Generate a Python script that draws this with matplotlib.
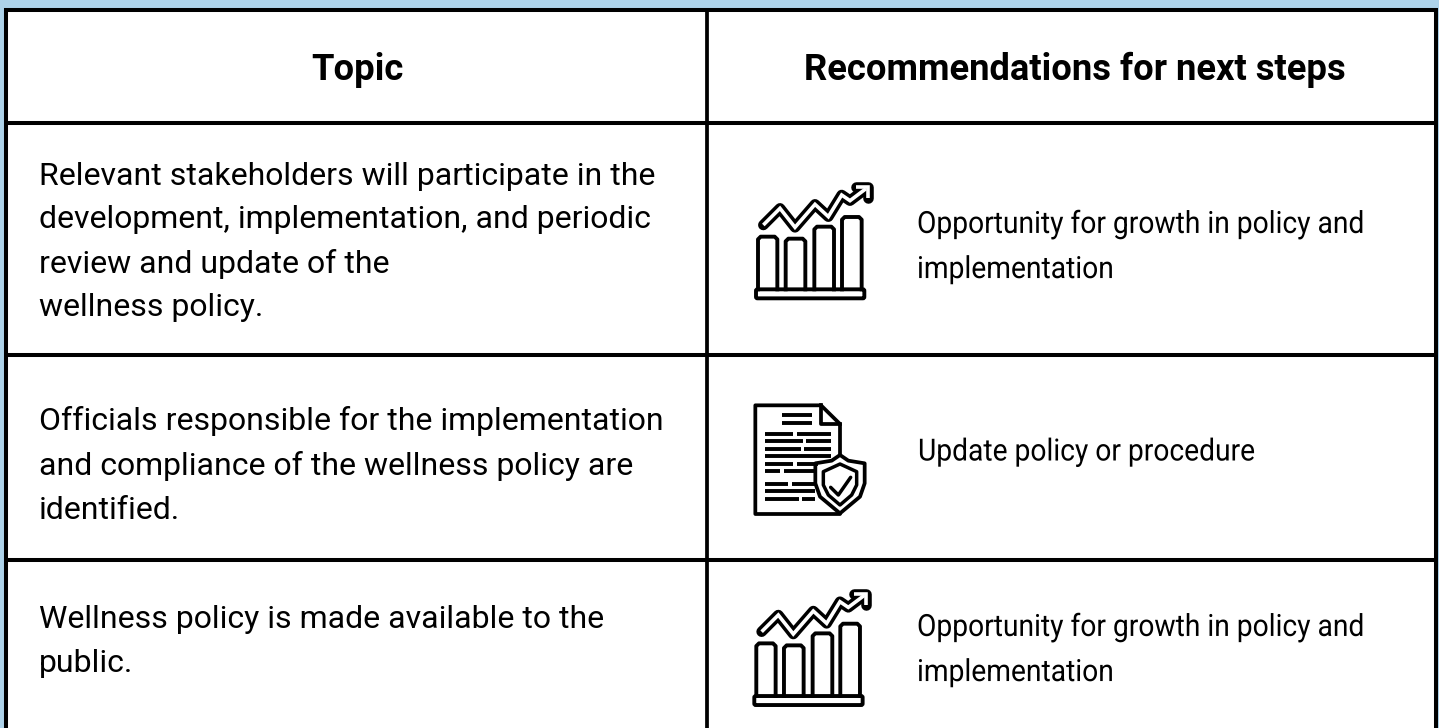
import matplotlib
matplotlib.use("Agg")
import matplotlib.pyplot as plt
from matplotlib.patches import Rectangle, FancyBboxPatch, Polygon
from matplotlib.patheffects import AbstractPathEffect
from matplotlib.transforms import Affine2D

BLUE = "#aed3ea"
header = ["Topic", "Recommendations for next steps"]
topics = [
    "Relevant stakeholders will participate in the\ndevelopment, implementation, and periodic\nreview and update of the\nwellness policy.",
    "Officials responsible for the implementation\nand compliance of the wellness policy are\nidentified.",
    "Wellness policy is made available to the\npublic.",
]
recs = [
    "Opportunity for growth in policy and\nimplementation",
    "Update policy or procedure",
    "Opportunity for growth in policy and\nimplementation",
]


class Condense(AbstractPathEffect):
    # squeeze text sideways around x0 (no condensed Roboto installed)
    def __init__(self, x0, sx):
        super().__init__()
        self.x0 = x0
        self.sx = sx

    def draw_path(self, renderer, gc, tpath, affine, rgbFace=None):
        squeeze = Affine2D().translate(-self.x0, 0).scale(self.sx, 1).translate(self.x0, 0)
        renderer.draw_path(gc, tpath, affine + squeeze, rgbFace)


fig = plt.figure(figsize=(14.39, 7.28), dpi=100, facecolor=BLUE)
ax = fig.add_axes([0, 0, 1, 1])
ax.set_xlim(0, 1439)
ax.set_ylim(728, 0)
ax.axis("off")

# table frame
ax.add_patch(Rectangle((6, 9.5), 1430, 730, fc="white", ec="black", lw=2.9))
ax.plot([706.7, 706.7], [9, 728], color="black", lw=2.7, solid_capstyle="butt")
for y in [123, 355, 560]:
    ax.plot([6, 1436], [y, y], color="black", lw=2.9, solid_capstyle="butt")


def growth_icon(ox, oy):
    # coordinates measured on a 3x crop, so divide by 3
    def P(x, y):
        return ox + x / 3, oy + y / 3

    for x0, x1, top in [(54, 112, 200), (137, 196, 206), (223, 282, 170), (306, 365, 141)]:
        pts = [P(x0, 358), P(x0, top + 8), P(x0 + 8, top), P(x1 - 8, top), P(x1, top + 8), P(x1, 358)]
        ax.plot(*zip(*pts), color="black", lw=2.8, solid_joinstyle="round")
    ax.add_patch(FancyBboxPatch(P(48, 358), 325 / 3, 27 / 3, boxstyle="round,pad=0,rounding_size=1.5",
                                fc="white", ec="black", lw=2.8))
    band = [P(70, 165), P(120, 115), P(165, 172), P(225, 103), P(265, 140), P(305, 75), P(330, 92), P(378, 56)]
    head = [P(348, 52), P(384, 52), P(384, 84)]
    for line in (band, head):
        ax.plot(*zip(*line), color="black", lw=7.6, solid_joinstyle="round", solid_capstyle="round")
    for line in (band, head):
        ax.plot(*zip(*line), color="white", lw=2.6, solid_joinstyle="miter", solid_capstyle="butt")


def doc_icon(ox, oy):
    def P(x, y):
        return ox + x / 3, oy + y / 3

    outline = [P(46, 46), P(243, 46), P(300, 102), P(300, 372), P(46, 372)]
    ax.add_patch(Polygon(outline, closed=True, fc="white", ec="black", lw=2.7, joinstyle="round"))
    fold = [P(243, 46), P(243, 102), P(300, 102)]
    ax.plot(*zip(*fold), color="black", lw=2.7, solid_joinstyle="round")
    rows = [(75, [(125, 215)]), (98, [(125, 215)]),
            (132, [(75, 160), (172, 272)]), (152, [(75, 188), (198, 272)]),
            (176, [(75, 183), (193, 272)]), (198, [(75, 272)]),
            (221, [(75, 160), (170, 235)]), (243, [(75, 120), (132, 225)]),
            (282, [(75, 145), (155, 225)]), (304, [(75, 225)]),
            (327, [(75, 177), (187, 225)])]
    for y, segs in rows:
        for x0, x1 in segs:
            ax.plot(*zip(P(x0, y), P(x1, y)), color="black", lw=2.8, solid_capstyle="butt")
    shield = [P(300, 195), P(325, 212), P(374, 220), P(374, 280), P(360, 320), P(300, 370),
              P(240, 320), P(226, 280), P(226, 220), P(275, 212)]
    ax.add_patch(Polygon(shield, closed=True, fc="white", ec="black", lw=2.7, joinstyle="round"))
    inner = [P(300, 222), P(350, 245), P(350, 285), P(335, 315), P(300, 345),
             P(265, 315), P(250, 285), P(250, 245)]
    ax.add_patch(Polygon(inner, closed=True, fc="white", ec="black", lw=2.5, joinstyle="round"))
    check = [P(272, 292), P(295, 315), P(332, 262)]
    ax.plot(*zip(*check), color="black", lw=2.5, solid_capstyle="round", solid_joinstyle="round")


growth_icon(740, 170)
doc_icon(740, 390)
growth_icon(738.3, 576.7)

ax.text(357, 70, header[0], ha="center", va="center", fontsize=26.2, fontweight="bold", family="Roboto")
ax.text(1075, 70, header[1], ha="center", va="center", fontsize=26.2, fontweight="bold", family="Roboto")
for txt, y in zip(topics, [242, 465.5, 641.5]):
    ax.text(39, y, txt, ha="left", va="center", fontsize=23.05, linespacing=1.62, family="Roboto")
for txt, y, x in zip(recs, [246.5, 452, 649.5], [917, 918, 917]):
    ax.text(x, y, txt, ha="left", va="center", fontsize=22, linespacing=1.7, family="Roboto",
            path_effects=[Condense(x, 0.923)])

fig.savefig("out.png", dpi=100, facecolor=BLUE)
